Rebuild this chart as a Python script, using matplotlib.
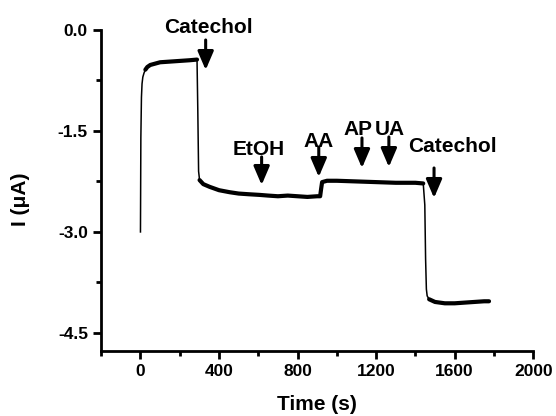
import matplotlib.pyplot as plt
from matplotlib.ticker import MultipleLocator

plt.rcParams['font.family'] = ['Liberation Sans', 'DejaVu Sans']
plt.rcParams['font.weight'] = 'bold'

# amperometric trace
time_s = [0, 2, 5, 8, 12, 18, 25, 35, 50, 75, 100, 150, 200, 250, 288,
          292, 296, 301, 320, 352, 400, 454, 500, 550, 607, 650, 700, 750,
          800, 850, 900, 915, 920, 925, 950, 1000, 1100, 1200, 1300, 1400,
          1440, 1448, 1452, 1456, 1460, 1470, 1500, 1550, 1600, 1650, 1700,
          1750, 1775]
current_uA = [-3.0, -1.6, -1.0, -0.8, -0.7, -0.64, -0.59, -0.55, -0.52, -0.5,
              -0.48, -0.47, -0.46, -0.45, -0.44,
              -1.2, -2.1, -2.23, -2.29, -2.33, -2.38, -2.41, -2.43, -2.44,
              -2.45, -2.46, -2.47, -2.46, -2.47, -2.48, -2.47, -2.47, -2.36,
              -2.26, -2.24, -2.24, -2.25, -2.26, -2.27, -2.27,
              -2.28, -2.6, -3.4, -3.85, -3.95, -4.0, -4.04, -4.06, -4.06,
              -4.05, -4.04, -4.03, -4.03]
# steady (noisy) parts of the trace, as index ranges
plateaus = [(6, 15), (17, 41), (45, len(time_s))]

# injections: label, arrow x, arrow tip y, arrow tail y, label x, label baseline y
labels = ['Catechol', 'EtOH', 'AA', 'AP', 'UA', 'Catechol']
arrow_t = [332, 617, 908, 1128, 1265, 1495]
arrow_tip = [-0.594, -2.302, -2.183, -2.050, -2.035, -2.495]
arrow_tail = [-0.149, -1.886, -1.738, -1.604, -1.589, -2.050]
label_t = [347, 602, 908, 1107, 1270, 1587]
label_v = [-0.045, -1.856, -1.738, -1.559, -1.559, -1.812]

fig = plt.figure(figsize=(5.56, 4.16), dpi=100)
ax = fig.add_axes([0.182, 0.156, 0.777, 0.772])

ax.plot(time_s, current_uA, color='black', lw=1.1)
for a, b in plateaus:
  ax.plot(time_s[a:b], current_uA[a:b], color='black', lw=3.0,
          solid_joinstyle='round', solid_capstyle='round')

for i in range(len(labels)):
  ax.annotate('', xy=(arrow_t[i], arrow_tip[i]), xytext=(arrow_t[i], arrow_tail[i]),
              arrowprops=dict(arrowstyle='-|>,head_length=0.7,head_width=0.3',
                              color='black', lw=2.2,
                              mutation_scale=16, shrinkA=0, shrinkB=0))
  ax.text(label_t[i], label_v[i], labels[i], ha='center', va='baseline',
          fontsize=15, fontweight='bold', clip_on=False)

ax.set_xlim(-200, 2000)
ax.set_ylim(-4.77, 0.0)
ax.xaxis.set_major_locator(MultipleLocator(400))
ax.xaxis.set_minor_locator(MultipleLocator(200))
ax.yaxis.set_major_locator(MultipleLocator(1.5))
ax.yaxis.set_minor_locator(MultipleLocator(0.75))
ax.yaxis.set_major_formatter(plt.FormatStrFormatter('%.1f'))

for s in ['top', 'right']:
  ax.spines[s].set_visible(False)
for s in ['left', 'bottom']:
  ax.spines[s].set_linewidth(2)
ax.tick_params(which='major', direction='out', length=6, width=2, labelsize=12.5)
ax.tick_params(which='minor', direction='out', length=3.5, width=2)
for lab in ax.get_xticklabels() + ax.get_yticklabels():
  lab.set_fontweight('bold')

ax.set_xlabel('Time (s)', fontsize=15, fontweight='bold', labelpad=11)
ax.set_ylabel('I (μA)', fontsize=15, fontweight='bold')
ax.yaxis.set_label_coords(-0.165, 0.473)

plt.savefig('out.png', dpi=100)
